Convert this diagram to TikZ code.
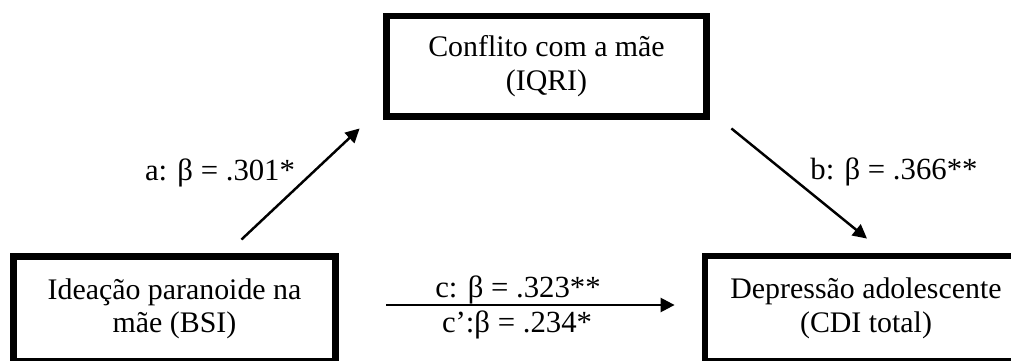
\documentclass[tikz,border=0pt]{standalone}
\usepackage{fontspec}
\setmainfont{Liberation Serif}
\usetikzlibrary{arrows.meta, positioning, calc}

\begin{document}
\begin{tikzpicture}[
  x=0.02cm, y=-0.02cm,
  box/.style={draw, line width=3.9pt, minimum width=6.44cm, minimum height=2.1cm,
              align=center, inner sep=0pt, font=\fontsize{17}{19}\selectfont},
  coef/.style={anchor=base, inner sep=0pt, font=\fontsize{17.5}{20}\selectfont},
  arr/.style={-{Triangle[length=2.8mm, width=2.8mm]}, line width=1.4pt}
]
  % page frame (boxes run off the right and bottom edges)
  \useasboundingbox (0,0) rectangle (1011,361);
  \clip (0,0) rectangle (1011,361);

  \node[box] (mom) at (174.5,309) {Ideação paranoide na\\mãe (BSI)};
  \node[box, minimum width=6.4cm, minimum height=2.01cm] (conf) at (546.5,66.3) {Conflito com a mãe\\(IQRI)};
  \node[box] (dep) at (866,308.5) {Depressão adolescente\\(CDI total)};

  \node[coef] (pa) at (220,181) {a: β = .301*};
  \node[coef] (pb) at (894,180) {b: β = .366**};
  \node[coef] (pc) at (518,297) {c: β = .323**};
  \node[coef] (pc2) at (517,333) {c’:β = .234*};

  \draw[arr] ([shift={(-97.5,-13.5)}]mom.north east) -- ([shift={(-23.5,8.5)}]conf.south west);
  \draw[arr] ([shift={(21.5,8.5)}]conf.south east) -- ([shift={(1,-14)}]dep.north);
  \draw[arr] ([shift={(47.5,-4)}]mom.east) -- ([shift={(-27,-3.5)}]dep.west);
\end{tikzpicture}
\end{document}
